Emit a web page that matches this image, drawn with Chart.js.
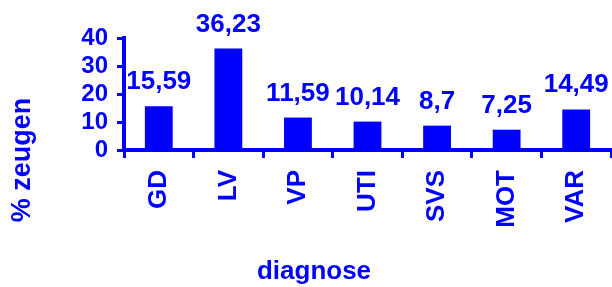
<!DOCTYPE html>
<html>
<head>
<meta charset="utf-8">
<script src="https://cdn.jsdelivr.net/npm/chart.js@4/dist/chart.umd.min.js"></script>
<style>
  html, body { margin: 0; padding: 0; background: #fff; }
  #wrap { width: 612px; height: 287px; }
</style>
</head>
<body>
<div id="wrap"><canvas id="chart" width="612" height="287"></canvas></div>
<script>
// diagnose-verdeling, % zeugen per diagnose
const categories = ['GD', 'LV', 'VP', 'UTI', 'SVS', 'MOT', 'VAR'];
const values = [15.59, 36.23, 11.59, 10.14, 8.7, 7.25, 14.49];
const yTicks = [0, 10, 20, 30, 40];

const BLUE = '#0000ff';
const FONT = '"Liberation Sans", Arial, sans-serif';

// value labels above the bars (comma decimal)
const valueLabels = {
    id: 'valueLabels',
    afterDatasetsDraw(chart) {
        const ctx = chart.ctx;
        const meta = chart.getDatasetMeta(0);
        ctx.save();
        ctx.fillStyle = BLUE;
        ctx.font = 'bold 26px ' + FONT;
        ctx.textAlign = 'center';
        ctx.textBaseline = 'alphabetic';
        meta.data.forEach((bar, i) => {
            const txt = values[i].toString().replace('.', ',');
            ctx.fillText(txt, bar.x, bar.y - 17);
        });
        ctx.restore();
    }
};

// axis titles drawn by hand so they sit where the original has them
const axisTitles = {
    id: 'axisTitles',
    afterDraw(chart) {
        const ctx = chart.ctx;
        ctx.save();
        ctx.fillStyle = BLUE;
        ctx.font = 'bold 26px ' + FONT;
        ctx.textAlign = 'center';
        ctx.textBaseline = 'middle';
        ctx.fillText('diagnose', 314, 272);
        ctx.font = 'bold 27px ' + FONT;
        ctx.translate(23, 160);
        ctx.rotate(-Math.PI / 2);
        ctx.fillText('% zeugen', 0, 0);
        ctx.restore();
    }
};

new Chart(document.getElementById('chart').getContext('2d'), {
    type: 'bar',
    data: {
        labels: categories,
        datasets: [{
            data: values,
            backgroundColor: BLUE,
            borderWidth: 0,
            barPercentage: 0.4,
            categoryPercentage: 1.0
        }]
    },
    options: {
        responsive: false,
        animation: false,
        layout: { padding: { top: 38, right: 1, left: 0, bottom: 0 } },
        plugins: { legend: { display: false }, tooltip: { enabled: false } },
        scales: {
            x: {
                grid: { display: true, drawOnChartArea: false, offset: true, tickLength: 8, tickWidth: 3, color: BLUE },
                border: { color: BLUE, width: 4 },
                ticks: {
                    color: BLUE, font: { family: FONT, size: 26, weight: 'bold' },
                    minRotation: 90, maxRotation: 90, padding: 12, autoSkip: false
                },
                afterFit(scale) {
                    scale.height = 137;
                    scale.paddingLeft = 0;
                    scale.paddingRight = 0;
                }
            },
            y: {
                min: 0, max: 40,
                afterBuildTicks(scale) { scale.ticks = yTicks.map(v => ({ value: v })); },
                grid: { display: true, drawOnChartArea: false, tickLength: 7, tickWidth: 3, color: BLUE },
                border: { color: BLUE, width: 4 },
                ticks: { color: BLUE, font: { family: FONT, size: 24, weight: 'bold' }, padding: 9, autoSkip: false },
                afterFit(scale) { scale.width = 124; }
            }
        }
    },
    plugins: [valueLabels, axisTitles]
});
</script>
</body>
</html>
